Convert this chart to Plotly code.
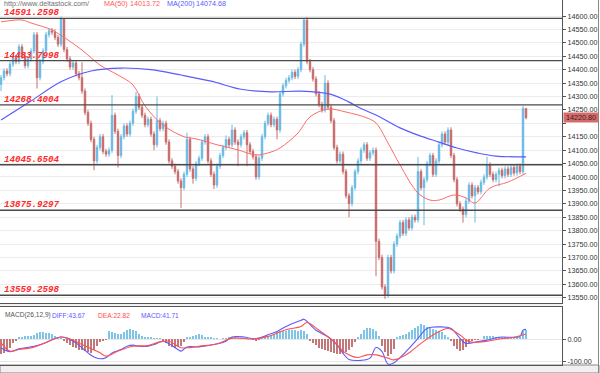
import plotly.graph_objects as go

# ---------------- data ----------------
first_open = 14345
closes = [
    14370, 14395, 14385, 14420, 14445, 14430, 14485, 14450, 14415, 14440,
    14470, 14530, 14370, 14430, 14470, 14530, 14545, 14540, 14520, 14495,
    14590, 14475, 14440, 14410, 14425, 14385, 14370, 14320, 14240, 14200,
    14140, 14060, 14110, 14150, 14095, 14085, 14100, 14230, 14170, 14080,
    14150, 14190, 14160, 14200, 14245, 14300, 14260, 14230, 14195, 14215,
    14160, 14120, 14210, 14180, 14200, 14130, 14060, 14040, 14020, 13985,
    13960, 14010, 14140, 14030, 13995, 14050, 14070, 14130, 14150, 14060,
    14010, 13970, 14040, 14080, 14110, 14140, 14120, 14175, 14130, 14120,
    14150, 14165, 14120, 14095, 14075, 14000, 14070, 14150, 14200, 14230,
    14195, 14215, 14175, 14310, 14340, 14360, 14370, 14390, 14375, 14400,
    14495, 14585, 14430, 14400, 14365, 14310, 14270, 14250, 14350, 14260,
    14210, 14110, 14060, 14085, 14020, 13930, 13900, 13960, 14020, 14060,
    14100, 14120, 14070, 14090, 14100, 13760, 13700, 13590, 13560, 13700,
    13650, 13750, 13780, 13830, 13790, 13840, 13810, 13850, 13840, 14020,
    13960, 13990, 14050, 14080, 14010, 14060, 14120, 14160, 14130, 14175,
    14080, 13990, 13900, 13880, 13860, 13910, 13970, 13930, 13960, 13945,
    13980, 14000, 14045, 14010, 13990, 14010, 14025, 14005, 14030, 14010,
    14035, 14015, 14040, 14020, 14255, 14221,
]
default_wick = 10
high_overrides = {11: 14540, 20: 14598, 21: 14590, 27: 14428, 37: 14305, 45: 14317,
                  52: 14300, 62: 14165, 75: 14155, 77: 14195, 101: 14592, 108: 14380,
                  121: 14130, 139: 14075, 149: 14185, 162: 14075, 174: 14265, 175: 14258}
low_overrides = {0: 14320, 12: 14330, 31: 14025, 39: 14035, 51: 14100, 60: 13885,
                 64: 13975, 71: 13955, 79: 14040, 82: 14040, 85: 13990, 92: 14140,
                 116: 13850, 125: 13630, 128: 13545, 139: 13830, 141: 13820,
                 154: 13830, 158: 13830, 166: 13965, 175: 14215}

ma50_idx = [0, 7, 10, 17, 20, 27, 33, 39, 44, 48, 54, 61, 65, 72, 79, 85, 90, 93, 99,
            103, 109, 115, 122, 125, 129, 133, 139, 143, 146, 151, 155, 158, 163, 169, 175]
ma50_val = [14578, 14585, 14574, 14548, 14528, 14473, 14417, 14380, 14343, 14265,
            14194, 14150, 14142, 14120, 14101, 14082, 14093, 14108, 14164, 14224,
            14253, 14242, 14220, 14201, 14127, 14045, 13940, 13914, 13914, 13933,
            13922, 13903, 13959, 13981, 14013.72]
ma200_idx = [0, 10, 20, 30, 40, 50, 60, 70, 80, 90, 100, 110, 116, 120, 125, 133, 139,
             146, 152, 159, 165, 175]
ma200_val = [14212, 14283, 14355, 14395, 14406, 14400, 14380, 14357, 14327, 14317,
             14320, 14308, 14279, 14255, 14231, 14183, 14156, 14130, 14108, 14089,
             14078, 14074.68]

levels = [14591.2598, 14433.7998, 14268.4004, 14045.6504, 13875.9297, 13559.2598]
level_labels = ["14591.2598", "14433.7998", "14268.4004", "14045.6504", "13875.9297", "13559.2598"]
price_ticks = list(range(13550, 14601, 50))
hidden_tick = 14200  # covered by the last-price box in the reference
last_price = 14220.80

diff_idx = [0, 3, 6, 11, 14, 17, 20, 22, 25, 27, 29, 31, 33, 35, 37, 40, 42, 44, 46, 49,
            51, 54, 56, 59, 60, 62, 66, 71, 75, 77, 81, 84, 86, 89, 92, 95, 100, 101,
            105, 109, 112, 114, 116, 120, 123, 125, 127, 129, 131, 135, 139, 142, 146,
            150, 153, 155, 159, 162, 166, 171, 173, 174, 175]
diff_val = [-40, -58, -45, -33, -22, -3, 9, 4, -18, -40, -63, -82, -90, -85, -63, -48,
            -33, -28, -33, -33, -25, -10, -21, -48, -55, -36, -36, -25, -10, 9, 9, 1, 4,
            19, 34, 57, 85, 90, 40, 10, -27, -65, -93, -97, -87, -39, -57, -114, -108,
            -57, 3, 48, 55, 48, 3, -20, -12, -5, 8, 8, 12, 40, 43.67]
dea_idx = [0, 3, 6, 11, 16, 20, 23, 27, 33, 35, 39, 44, 49, 53, 56, 60, 62, 66, 72, 77,
           84, 89, 95, 100, 102, 106, 111, 115, 119, 122, 125, 129, 131, 135, 140, 144,
           149, 153, 156, 161, 166, 171, 175]
dea_val = [-18, -55, -48, -37, -10, 9, 0, -25, -63, -78, -55, -33, -30, -13, -10, -40,
           -40, -33, -22, 4, 0, 12, 42, 57, 75, 40, -12, -65, -84, -72, -72, -87, -95,
           -72, -20, 18, 48, 18, -12, -12, 0, 8, 22.82]
macd_hist = [
    -70, -65, -55, -40, -20, -5,
    6, 9, 12, 12, 14,
    20, 27, 31, 30, 29, 27, 22, 12,
    5, 2,
    -5, -18, -28, -37, -43, -48, -52, -55, -60, -63, -50,
    -30, -15, -8, -3,
    35, 33, 28, 25, 22, 30, 40, 45, 43, 35, 25, 15, 10,
    6, 5, 4, 3, 2,
    -10, -20, -30, -35, -40, -38, -30, -15,
    5, 10, 15, 20, 22, 18, 10,
    8, 6, 4, 2, 0, 1, 2, 5, 7,
    6, 4, 3, 2, 1, 0,
    -4, -5, -3,
    8, 12, 15, 20, 25, 30, 35, 35, 38, 40, 42, 40, 38,
    40, 38, 25,
    -10, -20, -28, -39, -45, -50, -55, -61, -65, -69, -68, -65, -58, -50, -35, -15,
    10, 25, 40, 48, 51, 45, 35, 15,
    -30, -57, -79, -70, -45,
    10, 15, 20, 25, 32, 40, 50, 60, 70, 65, 55, 50, 45, 40, 35, 30, 20, 10,
    -10, -30, -45, -54, -50, -38, -20,
    -8, -4, -2, 0,
    12, 15, 14, 12, 9, 8, 7, 6, 6, 6, 6, 7, 8,
    36, 41.71,
]
macd_ticks = [0, -100]
macd_tick_text = ["0.00", "-100.00"]

# ---------------- build OHLC ----------------
n = len(closes)
assert len(macd_hist) == n, len(macd_hist)
idx = list(range(n))
opens = [first_open] + closes[:-1]
highs = [high_overrides.get(i, max(opens[i], closes[i]) + default_wick) for i in idx]
lows = [low_overrides.get(i, min(opens[i], closes[i]) - default_wick) for i in idx]

# ---------------- geometry ----------------
W, H = 600, 373
ML, MR, MT, MB = 0, 38, 0, 8
PW, PH = W - ML - MR, H - MT - MB


def px(x):
    return (x - ML) / PW


def py(y):
    return (PH - (y - MT)) / PH


main_bottom, macd_top = 303, 307
pp = 0.2683  # px per point
y_top = 14600 + 16 / pp
y_bot = 14600 - (main_bottom - 16) / pp
macd_hi = (339 - macd_top) / 0.22
macd_lo = (339 - (H - MB)) / 0.22
x_range = [-1 / 3, (PW - 1) / 3]

fig = go.Figure()

fig.add_trace(go.Candlestick(
    x=idx, open=opens, high=highs, low=lows, close=closes,
    increasing=dict(line=dict(color="#6bbbe4", width=1), fillcolor="#52ade0"),
    decreasing=dict(line=dict(color="#c96e6e", width=1), fillcolor="#bb4747"),
    whiskerwidth=0, xaxis="x", yaxis="y", showlegend=False, hoverinfo="skip"))

fig.add_trace(go.Scatter(x=ma50_idx, y=ma50_val, mode="lines",
                         line=dict(color="#ff6a6a", width=1, shape="spline"),
                         xaxis="x", yaxis="y", showlegend=False, hoverinfo="skip"))
fig.add_trace(go.Scatter(x=ma200_idx, y=ma200_val, mode="lines",
                         line=dict(color="#5a5aff", width=1.2, shape="spline"),
                         xaxis="x", yaxis="y", showlegend=False, hoverinfo="skip"))

hist_colors = ["#7ec4e6" if v >= 0 else "#c27878" for v in macd_hist]
fig.add_trace(go.Bar(x=idx, y=macd_hist, marker=dict(color=hist_colors, line=dict(width=0)),
                     width=0.4, xaxis="x2", yaxis="y2", showlegend=False, hoverinfo="skip"))
fig.add_trace(go.Scatter(x=diff_idx, y=diff_val, mode="lines",
                         line=dict(color="#5a5aff", width=1.1, shape="spline"),
                         xaxis="x2", yaxis="y2", showlegend=False, hoverinfo="skip"))
fig.add_trace(go.Scatter(x=dea_idx, y=dea_val, mode="lines",
                         line=dict(color="#ff5050", width=1.1, shape="spline"),
                         xaxis="x2", yaxis="y2", showlegend=False, hoverinfo="skip"))

shapes = []
for lv in levels:
    shapes.append(dict(type="line", xref="x", yref="y", x0=x_range[0], x1=x_range[1],
                       y0=lv, y1=lv, line=dict(color="#4a4a4a", width=1.3), layer="above"))
shapes.append(dict(type="rect", xref="paper", yref="paper", x0=0, x1=1,
                   y0=py(macd_top), y1=py(main_bottom), fillcolor="#f2f2f2",
                   line=dict(width=0), layer="below"))
shapes.append(dict(type="rect", xref="paper", yref="paper", x0=0, x1=(W - 1) / PW,
                   y0=-MB / PH, y1=0, fillcolor="#f0f0f0",
                   line=dict(color="#888", width=1), layer="below"))
shapes.append(dict(type="line", xref="paper", yref="paper", x0=(W - 1.5) / PW, x1=(W - 1.5) / PW,
                   y0=-MB / PH, y1=1, line=dict(color="#888", width=1)))

annotations = []
for lv, lab in zip(levels, level_labels):
    annotations.append(dict(x=px(2), xref="paper", y=lv, yref="y", text=lab,
                            xanchor="left", yanchor="bottom", yshift=-2, showarrow=False,
                            font=dict(family="Liberation Mono", size=9.2, color="#ff2a2a",
                                      weight="bold", style="italic")))

hdr_y = py(4)
hdr = [
    (2, "http://www.deltastock.com/", "#707070"),
    (102, "MA(50)", "#ff5a5a"),
    (128, "14013.72", "#ff5a5a"),
    (165, "MA(200)", "#5a5aff"),
    (194, "14074.68", "#5a5aff"),
]
for x, t, c in hdr:
    annotations.append(dict(x=px(x), xref="paper", y=hdr_y, yref="paper", text=t,
                            xanchor="left", yanchor="middle", showarrow=False,
                            font=dict(family="Liberation Sans", size=7.2, color=c)))
mh_y = py(315)
mhdr = [
    (3, "MACD(26,12,9)", "#555555"),
    (50, "DIFF:43.67", "#5a5aff"),
    (96, "DEA:22.82", "#ff4a4a"),
    (139, "MACD:41.71", "#5a5aff"),
]
for x, t, c in mhdr:
    annotations.append(dict(x=px(x), xref="paper", y=mh_y, yref="paper", text=t,
                            xanchor="left", yanchor="middle", showarrow=False,
                            font=dict(family="Liberation Sans", size=6.6, color=c)))

annotations.append(dict(x=1, xref="paper", y=last_price, yref="y", text="14220.80",
                        xanchor="left", yanchor="middle", xshift=1, showarrow=False,
                        bgcolor="#d46c6c", borderpad=0, width=34, height=9,
                        font=dict(family="Liberation Sans", size=7.2, color="#3a2020")))

axis_common = dict(showgrid=False, zeroline=False, showticklabels=False,
                   showline=True, mirror=True, linecolor="#555", linewidth=1,
                   range=x_range, fixedrange=True)

fig.update_layout(
    width=W, height=H, margin=dict(l=ML, r=MR, t=MT, b=MB),
    paper_bgcolor="white", plot_bgcolor="white",
    shapes=shapes, annotations=annotations, bargap=0,
    xaxis=dict(domain=[0, 1], anchor="y", rangeslider=dict(visible=False), **axis_common),
    xaxis2=dict(domain=[0, 1], anchor="y2", **axis_common),
    yaxis=dict(domain=[py(main_bottom), 1], range=[y_bot, y_top], side="right",
               tickvals=price_ticks,
               ticktext=["" if v == hidden_tick else f"{v:.2f}" for v in price_ticks],
               ticks="outside", ticklen=3, tickcolor="#555",
               tickfont=dict(family="Liberation Sans", size=7.2, color="#333"),
               showgrid=True, gridcolor="#ececec", gridwidth=1, zeroline=False,
               showline=True, mirror=True, linecolor="#555", linewidth=1),
    yaxis2=dict(domain=[0, py(macd_top)], range=[macd_lo, macd_hi], side="right",
                tickvals=macd_ticks, ticktext=macd_tick_text,
                ticks="outside", ticklen=3, tickcolor="#555",
                tickfont=dict(family="Liberation Sans", size=7.2, color="#333"),
                showgrid=True, gridcolor="#e6e6e6", zeroline=False,
                showline=True, mirror=True, linecolor="#555", linewidth=1),
)

fig.write_html("out.html", config={"displayModeBar": False},
               post_script="document.body.style.margin='0';document.body.style.overflow='hidden';")
